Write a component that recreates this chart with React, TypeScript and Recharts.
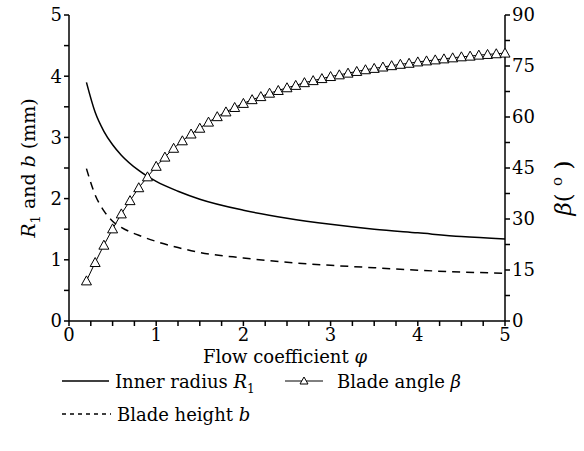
import React from "react";
import { LineChart, Line, XAxis, YAxis } from "recharts";

// R1 and b (mm) sampled along the flow coefficient
const phi = [0.2, 0.3, 0.4, 0.5, 0.6, 0.8, 1.0, 1.25, 1.5, 2.0, 2.5, 3.0, 3.5, 4.0, 4.5, 5.0];
const innerRadius = [3.9, 3.41, 3.1, 2.88, 2.71, 2.46, 2.28, 2.12, 1.99, 1.81, 1.68, 1.58, 1.5, 1.44, 1.38, 1.34];
const bladeHeight = [2.49, 2.06, 1.8, 1.63, 1.53, 1.4, 1.3, 1.2, 1.12, 1.03, 0.96, 0.91, 0.87, 0.83, 0.8, 0.78];

// blade angle markers (deg)
const betaPhi = [
  0.2, 0.3, 0.4, 0.5, 0.6, 0.7, 0.8, 0.9, 1.0, 1.1, 1.2, 1.3, 1.4, 1.5, 1.6, 1.7, 1.8,
  1.9, 2.0, 2.1, 2.2, 2.3, 2.4, 2.5, 2.6, 2.7, 2.8, 2.9, 3.0, 3.1, 3.2, 3.3, 3.4, 3.5,
  3.6, 3.7, 3.8, 3.9, 4.0, 4.1, 4.2, 4.3, 4.4, 4.5, 4.6, 4.7, 4.8, 4.9, 5.0,
];
const bladeAngle = [
  11.8, 17.2, 22.3, 27.1, 31.5, 35.4, 39.2, 42.4, 45.5, 48.2, 50.8, 53.0, 55.0, 56.7, 58.5, 60.1, 61.5,
  62.8, 64.0, 65.1, 66.0, 67.0, 67.8, 68.6, 69.3, 70.1, 70.7, 71.3, 71.9, 72.4, 72.9, 73.4, 73.9, 74.3,
  74.7, 75.1, 75.5, 75.8, 76.2, 76.5, 76.8, 77.1, 77.4, 77.7, 77.9, 78.2, 78.4, 78.6, 78.8,
];

const xTicks = [0, 0.25, 0.5, 0.75, 1, 1.25, 1.5, 1.75, 2, 2.25, 2.5, 2.75, 3, 3.25, 3.5, 3.75, 4, 4.25, 4.5, 4.75, 5];
const leftTicks = [0, 0.5, 1, 1.5, 2, 2.5, 3, 3.5, 4, 4.5, 5];
const rightTicks = [0, 7.5, 15, 22.5, 30, 37.5, 45, 52.5, 60, 67.5, 75, 82.5, 90];

const radiusData = phi.map((x, i) => ({ x, r: innerRadius[i], b: bladeHeight[i] }));
const angleData = betaPhi.map((x, i) => ({ x, beta: bladeAngle[i] }));

const font = "DejaVu Serif";
const tickStyle = { fill: "#000", fontSize: 18, fontFamily: font, style: { fontFamily: font } };

const intOnly = (v: number) => (Number.isInteger(v) ? String(v) : "");
const every15 = (v: number) => (v % 15 === 0 ? String(v) : "");

const TriangleDot = (props: any) => {
  const { cx, cy, index } = props;
  if (cx == null || cy == null) return <g key={`t-${index}`} />;
  return (
    <path
      key={`t-${index}`}
      d={`M${cx},${cy - 5} L${cx + 5},${cy + 4} L${cx - 5},${cy + 4} Z`}
      fill="#fff"
      stroke="#000"
      strokeWidth={1}
    />
  );
};

const App = () => {
  return (
    <div style={{ position: "absolute", left: 0, top: 0, width: 584, height: 451, background: "#fff", fontFamily: font }}>
      <LineChart width={584} height={451} margin={{ top: 15, right: 0, bottom: 90, left: 0 }} style={{ fontFamily: font }}>
        <XAxis
          type="number"
          dataKey="x"
          domain={[0, 5]}
          ticks={xTicks}
          tickFormatter={intOnly}
          tick={tickStyle}
          tickSize={5}
          height={40}
          stroke="#000"
          strokeWidth={1.5}
          interval={0}
          allowDuplicatedCategory={false}
          label={{
            content: () => (
              <text x={285} y={363} textAnchor="middle" fontSize={18} style={{ fontFamily: font }} fill="#000">
                Flow coefficient <tspan fontStyle="italic">φ</tspan>
              </text>
            ),
          }}
        />
        <YAxis
          yAxisId="left"
          domain={[0, 5]}
          ticks={leftTicks}
          tickFormatter={intOnly}
          tick={tickStyle}
          tickSize={5}
          width={69}
          stroke="#000"
          strokeWidth={1.5}
          interval={0}
          label={{
            content: () => (
              <text transform="translate(35,168) rotate(-90)" textAnchor="middle" fontSize={19} style={{ fontFamily: font }} fill="#000">
                <tspan fontStyle="italic">R</tspan>
                <tspan fontSize={13} dy={5}>1</tspan>
                <tspan dy={-5}> and </tspan>
                <tspan fontStyle="italic">b</tspan>
                <tspan> (mm)</tspan>
              </text>
            ),
          }}
        />
        <YAxis
          yAxisId="right"
          orientation="right"
          domain={[0, 90]}
          ticks={rightTicks}
          tickFormatter={every15}
          tick={tickStyle}
          tickSize={5}
          width={79}
          stroke="#000"
          strokeWidth={1.5}
          interval={0}
          label={{
            content: () => (
              <text transform="translate(571,188) rotate(-90)" textAnchor="middle" fontSize={23} style={{ fontFamily: font }} fill="#000">
                <tspan fontStyle="italic">β</tspan>
                <tspan>( </tspan>
                <tspan fontSize={15} dy={-9}>o</tspan>
                <tspan dy={9}> )</tspan>
              </text>
            ),
          }}
        />
        <Line
          yAxisId="left"
          data={radiusData}
          dataKey="r"
          type="monotone"
          stroke="#000"
          strokeWidth={1.5}
          dot={false}
          isAnimationActive={false}
        />
        <Line
          yAxisId="left"
          data={radiusData}
          dataKey="b"
          type="monotone"
          stroke="#000"
          strokeWidth={1.5}
          strokeDasharray="8 6"
          dot={false}
          isAnimationActive={false}
        />
        <Line
          yAxisId="right"
          data={angleData}
          dataKey="beta"
          type="linear"
          stroke="#000"
          strokeWidth={1}
          dot={TriangleDot}
          isAnimationActive={false}
        />
      </LineChart>

      <svg width={584} height={451} style={{ position: "absolute", left: 0, top: 0, pointerEvents: "none", fontFamily: font }}>
        <g fontSize={18} fill="#000">
          <line x1={62} y1={381} x2={109} y2={381} stroke="#000" strokeWidth={1.5} />
          <text x={115} y={388}>
            Inner radius <tspan fontStyle="italic">R</tspan>
            <tspan fontSize={12} dy={5}>1</tspan>
          </text>

          <line x1={285} y1={381} x2={323} y2={381} stroke="#000" strokeWidth={1} />
          <path d="M304,377 L308,384 L300,384 Z" fill="#fff" stroke="#000" strokeWidth={1} />
          <text x={337} y={388}>
            Blade angle <tspan fontStyle="italic">β</tspan>
          </text>

          <line x1={62} y1={414} x2={111} y2={414} stroke="#000" strokeWidth={1.5} strokeDasharray="4 4" />
          <text x={117} y={421}>
            Blade height <tspan fontStyle="italic">b</tspan>
          </text>
        </g>
      </svg>
    </div>
  );
};

export default App;
